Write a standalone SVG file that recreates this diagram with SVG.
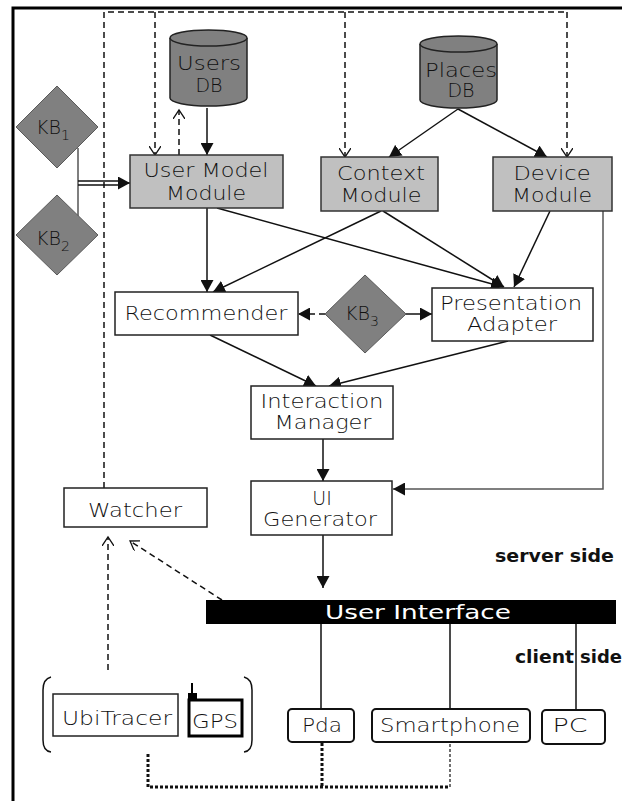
<svg xmlns="http://www.w3.org/2000/svg" width="622" height="801" viewBox="0 0 622 801">
  <style>
    .t { font-family: "DejaVu Sans", "Liberation Sans", sans-serif; font-size: 19px; font-weight: 200; fill: #111; text-anchor: middle; }
    .b { font-family: "DejaVu Sans", "Liberation Sans", sans-serif; font-size: 17px; font-weight: bold; fill: #111; }
    .sub { font-size: 14px; }
    .mod { fill: #c0c0c0; stroke: #333; stroke-width: 1.5; }
    .box { fill: #fff; stroke: #222; stroke-width: 1.5; }
    .dev { fill: #fff; stroke: #111; stroke-width: 2; }
    .kb { fill: #808080; stroke: #5a5a5a; stroke-width: 1; }
    .db { fill: #808080; stroke: #222; stroke-width: 1.5; }
    .ln { fill: none; stroke: #111; stroke-width: 1.5; }
    .gl { fill: none; stroke: #555; stroke-width: 1.5; }
    .ds { fill: none; stroke: #111; stroke-width: 1.5; stroke-dasharray: 6 4; }
    .dt { fill: none; stroke: #111; stroke-width: 3; stroke-dasharray: 3 2; }
    .dt1 { fill: none; stroke: #111; stroke-width: 1.2; stroke-dasharray: 3 2; }
  </style>
  <defs>
    <marker id="arr" markerUnits="userSpaceOnUse" markerWidth="13" markerHeight="13" refX="12" refY="6.5" orient="auto">
      <path d="M0,0 L12,6.5 L0,13 z" fill="#111"/>
    </marker>
    <marker id="open" markerUnits="userSpaceOnUse" markerWidth="11" markerHeight="12" refX="9" refY="6" orient="auto">
      <path d="M0,0 L9,6 L0,12" fill="none" stroke="#111" stroke-width="1.3"/>
    </marker>
  </defs>

  <rect width="622" height="801" fill="#fff"/>

  <!-- outer frame -->
  <path d="M13,801 V8 H622" fill="none" stroke="#000" stroke-width="3"/>

  <!-- connectors -->
  <g id="connectors">
    <!-- watcher monitoring bus -->
    <path class="ds" d="M104,488 V12 H567"/>
    <path class="ds" d="M155,12 V155" marker-end="url(#open)"/>
    <path class="ds" d="M345,12 V157" marker-end="url(#open)"/>
    <path class="ds" d="M567,12 V157" marker-end="url(#open)"/>
    <path class="ds" d="M179,155 V110" marker-end="url(#open)"/>

    <path class="ln" d="M207,108 V155" marker-end="url(#arr)"/>
    <path class="ln" d="M458,109 L389,157" marker-end="url(#arr)"/>
    <path class="ln" d="M458,109 L547,157" marker-end="url(#arr)"/>

    <!-- KB1 / KB2 to user model -->
    <path class="gl" d="M78,148 V216"/>
    <path class="ln" d="M78,181 H119 M78,185 H119"/>
    <path class="ln" d="M118,183 H130" marker-end="url(#arr)"/>

    <path class="ln" d="M207,208 V292" marker-end="url(#arr)"/>
    <path class="ln" d="M217,208 L503,287" marker-end="url(#arr)"/>
    <path class="ln" d="M381,211 L213,292" marker-end="url(#arr)"/>
    <path class="ln" d="M383,211 L504,287" marker-end="url(#arr)"/>
    <path class="ln" d="M550,211 L514,287" marker-end="url(#arr)"/>

    <path class="ds" d="M325,314 H298" marker-end="url(#arr)"/>
    <path class="ln" d="M406,314 H432" marker-end="url(#arr)"/>

    <path class="ln" d="M210,335 L316,386" marker-end="url(#arr)"/>
    <path class="ln" d="M508,341 L329,386" marker-end="url(#arr)"/>
    <path class="ln" d="M323,439 V481" marker-end="url(#arr)"/>
    <path class="gl" d="M603,211 V489 H393" marker-end="url(#arr)"/>
    <path class="ln" d="M323,535 V588" marker-end="url(#arr)"/>

    <path class="ln" d="M321,624 V709 M450,624 V709 M576,624 V710"/>

    <path class="ds" d="M108,670 V537" marker-end="url(#open)"/>
    <path class="ds" d="M222,600 L130,541" marker-end="url(#open)"/>

    <path class="dt" d="M148,754 V787 H450"/>
    <path class="dt" d="M322,743 V787"/>
    <path class="dt1" d="M450,787 V743"/>
  </g>

  <!-- nodes -->
  <g id="users-db">
    <path class="db" d="M170,38 V98 A38.5,8 0 0 0 247,98 V38"/>
    <ellipse class="db" cx="208.5" cy="38" rx="38.5" ry="8"/>
    <text class="t" x="209" y="70" textLength="64" lengthAdjust="spacingAndGlyphs">Users</text>
    <text class="t" x="209" y="92">DB</text>
  </g>

  <g id="places-db">
    <path class="db" d="M420,44 V100 A38.5,8 0 0 0 497,100 V44"/>
    <ellipse class="db" cx="458.5" cy="44" rx="38.5" ry="8"/>
    <text class="t" x="461" y="77" textLength="72" lengthAdjust="spacingAndGlyphs">Places</text>
    <text class="t" x="461" y="97">DB</text>
  </g>

  <g id="kb1">
    <path class="kb" d="M57,86 L98,127 L57,168 L16,127 z"/>
    <text class="t" x="53" y="134">KB<tspan class="sub" dy="6">1</tspan></text>
  </g>

  <g id="kb2">
    <path class="kb" d="M57,195 L98,235 L57,275 L16,235 z"/>
    <text class="t" x="53" y="245">KB<tspan class="sub" dy="6">2</tspan></text>
  </g>

  <g id="user-model">
    <rect class="mod" x="130" y="155" width="153" height="53"/>
    <text class="t" x="206" y="177" textLength="125" lengthAdjust="spacingAndGlyphs">User Model</text>
    <text class="t" x="206" y="200" textLength="80" lengthAdjust="spacingAndGlyphs">Module</text>
  </g>

  <g id="context-module">
    <rect class="mod" x="321" y="157" width="117" height="54"/>
    <text class="t" x="381" y="180" textLength="88" lengthAdjust="spacingAndGlyphs">Context</text>
    <text class="t" x="381" y="202" textLength="81" lengthAdjust="spacingAndGlyphs">Module</text>
  </g>

  <g id="device-module">
    <rect class="mod" x="493" y="157" width="119" height="54"/>
    <text class="t" x="552" y="180" textLength="77" lengthAdjust="spacingAndGlyphs">Device</text>
    <text class="t" x="552" y="202" textLength="80" lengthAdjust="spacingAndGlyphs">Module</text>
  </g>

  <g id="recommender">
    <rect class="box" x="115" y="292" width="183" height="43"/>
    <text class="t" x="206" y="320" textLength="163" lengthAdjust="spacingAndGlyphs">Recommender</text>
  </g>

  <g id="kb3">
    <path class="kb" d="M365,275 L406,314 L365,353 L325,314 z"/>
    <text class="t" x="362" y="320">KB<tspan class="sub" dy="6">3</tspan></text>
  </g>

  <g id="presentation-adapter">
    <rect class="box" x="432" y="288" width="161" height="53"/>
    <text class="t" x="511" y="310" textLength="142" lengthAdjust="spacingAndGlyphs">Presentation</text>
    <text class="t" x="512" y="331" textLength="90" lengthAdjust="spacingAndGlyphs">Adapter</text>
  </g>

  <g id="interaction-manager">
    <rect class="box" x="251" y="386" width="142" height="53"/>
    <text class="t" x="322" y="408" textLength="123" lengthAdjust="spacingAndGlyphs">Interaction</text>
    <text class="t" x="323" y="429" textLength="97" lengthAdjust="spacingAndGlyphs">Manager</text>
  </g>

  <g id="ui-generator">
    <rect class="box" x="251" y="481" width="141" height="54"/>
    <text class="t" x="322" y="505">UI</text>
    <text class="t" x="320" y="526" textLength="114" lengthAdjust="spacingAndGlyphs">Generator</text>
  </g>

  <g id="watcher">
    <rect class="box" x="64" y="488" width="143" height="39"/>
    <text class="t" x="135" y="517" textLength="94" lengthAdjust="spacingAndGlyphs">Watcher</text>
  </g>

  <g id="user-interface">
    <rect x="206" y="600" width="410" height="24" fill="#000"/>
    <text class="t" x="418" y="619" style="fill:#fff; font-weight:normal" textLength="186" lengthAdjust="spacingAndGlyphs">User Interface</text>
  </g>

  <g id="labels">
    <text class="b" x="495" y="562" textLength="119" lengthAdjust="spacingAndGlyphs">server side</text>
    <text class="b" x="515" y="663" textLength="59" lengthAdjust="spacingAndGlyphs">client</text>
    <text class="b" x="580" y="663" textLength="42" lengthAdjust="spacingAndGlyphs">side</text>
  </g>

  <g id="ubitracer-gps">
    <path d="M51,677 Q43,679 43,690 V740 Q43,751 51,752" fill="none" stroke="#111" stroke-width="1.5"/>
    <path d="M244,677 Q252,679 252,690 V740 Q252,751 244,752" fill="none" stroke="#111" stroke-width="1.5"/>
    <rect class="box" x="53" y="694" width="125" height="42"/>
    <text class="t" x="117" y="725" textLength="110" lengthAdjust="spacingAndGlyphs">UbiTracer</text>
    <rect x="189" y="700" width="53" height="36" fill="#fff" stroke="#000" stroke-width="3"/>
    <rect x="188" y="693" width="9" height="8" fill="#000"/>
    <path d="M192,683 V694" stroke="#000" stroke-width="2"/>
    <text class="t" x="215" y="728" textLength="46" lengthAdjust="spacingAndGlyphs">GPS</text>
  </g>

  <g id="pda">
    <rect class="dev" x="288" y="709" width="66" height="33" rx="4"/>
    <text class="t" x="322" y="732" textLength="40" lengthAdjust="spacingAndGlyphs">Pda</text>
  </g>

  <g id="smartphone">
    <rect class="dev" x="372" y="709" width="158" height="33" rx="4"/>
    <text class="t" x="450" y="732" textLength="140" lengthAdjust="spacingAndGlyphs">Smartphone</text>
  </g>

  <g id="pc">
    <rect class="dev" x="542" y="710" width="63" height="34" rx="4"/>
    <text class="t" x="570" y="732" textLength="35" lengthAdjust="spacingAndGlyphs">PC</text>
  </g>
</svg>
